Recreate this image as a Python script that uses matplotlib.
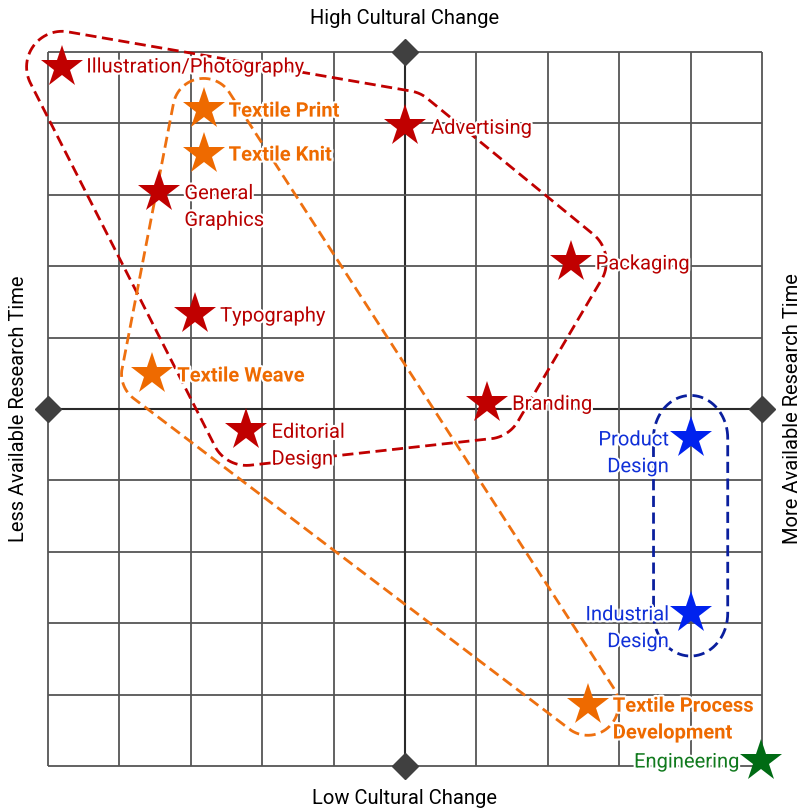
import numpy as np
import matplotlib
matplotlib.use("Agg")
import matplotlib.pyplot as plt
import matplotlib.patheffects as pe

# ---------------- data ----------------
names = ["Illustration/Photography", "Textile Print", "Textile Knit", "General\nGraphics",
         "Advertising", "Packaging", "Typography", "Textile Weave", "Branding",
         "Editorial\nDesign", "Product\nDesign", "Industrial\nDesign",
         "Textile Process\nDevelopment", "Engineering"]
x_change = [-4.80, -2.82, -2.82, -3.44, 0.00, 2.32, -2.94, -3.54, 1.15, -2.22, 4.00, 4.00, 2.56, 4.99]
y_time = [4.79, 4.20, 3.57, 3.04, 3.96, 2.06, 1.33, 0.49, 0.08, -0.29, -0.41, -2.86, -4.14, -4.93]
group = ["graphic", "textile", "textile", "graphic", "graphic", "graphic", "graphic", "textile",
         "graphic", "graphic", "product", "product", "textile", "engineering"]

top_title = "High Cultural Change"
bottom_title = "Low Cultural Change"
left_title = "Less Available Research Time"
right_title = "More Available Research Time"
grid_ticks = [-5, -4, -3, -2, -1, 0, 1, 2, 3, 4, 5]

# ---------------- style ----------------
star_color = {"graphic": "#C00000", "textile": "#EE6A00", "product": "#0022EE", "engineering": "#006B14"}
text_color = {"graphic": "#B80000", "textile": "#EE6A00", "product": "#1030D8", "engineering": "#117A1E"}
text_weight = {"graphic": "normal", "textile": "bold", "product": "normal", "engineering": "normal"}
outline_color = {"graphic": "#C00000", "textile": "#EE7010", "product": "#0A1F9E"}
outline_radius = {"graphic": (0.50, 0.50), "textile": (0.43, 0.43), "product": (0.52, 0.60)}
# label offsets in pixels (dx, dy) and horizontal alignment
label_off = [(24, 0), (25, -2), (25, -1), (25, -15), (26, -2), (25, -2), (25, -2), (25, -2),
             (25, -1), (25, -16), (-22, -15), (-22, -15), (25, -15), (-22, -1)]
label_ha = ["left"] * 10 + ["right", "right", "left", "right"]
FS = 14.5

plt.rcParams["font.family"] = ["Roboto", "DejaVu Sans"]

fig = plt.figure(figsize=(8.02, 8.09), dpi=100)
ax = fig.add_axes([48 / 802, 43 / 809, 714 / 802, 714 / 809])
ax.set_xlim(-5, 5)
ax.set_ylim(-5, 5)
ax.set_aspect("equal")
ax.axis("off")

# grid
for t in grid_ticks:
    c, lw = ("#2a2a2a", 1.5) if t == 0 else ("#555555", 1.3)
    ax.plot([t, t], [-5, 5], color=c, lw=lw, zorder=1, solid_capstyle="butt", clip_on=False)
    ax.plot([-5, 5], [t, t], color=c, lw=lw, zorder=1, solid_capstyle="butt", clip_on=False)

# diamonds at axis ends
ax.plot([0, 0, -5, 5], [5, -5, 0, 0], linestyle="none", marker="D", markersize=13.5,
        color="#404040", zorder=2, clip_on=False)


def buffered_hull(px, py, a, b, n=2880):
    pts = np.column_stack([px, py])
    th = np.linspace(0, 2 * np.pi, n, endpoint=False)
    nx, ny = np.cos(th), np.sin(th)
    proj = pts @ np.vstack([nx, ny])
    idx = proj.argmax(axis=0)
    v = pts[idx]
    d = np.sqrt(a * a * nx * nx + b * b * ny * ny)
    X = v[:, 0] + a * a * nx / d
    Y = v[:, 1] + b * b * ny / d
    return np.append(X, X[0]), np.append(Y, Y[0])


xs = np.array(x_change)
ys = np.array(y_time)
gs = np.array(group)
for g, col in outline_color.items():
    m = gs == g
    hx, hy = buffered_hull(xs[m], ys[m], *outline_radius[g])
    ax.plot(hx, hy, color=col, lw=2.0, dashes=(4, 2), zorder=3, clip_on=False)

# stars
for x, y, g in zip(x_change, y_time, group):
    ax.plot([x], [y], marker="*", markersize=31.5, color=star_color[g], markeredgewidth=0,
            linestyle="none", zorder=4, clip_on=False)

# labels
halo = [pe.withStroke(linewidth=3, foreground="white")]
for name, x, y, g, off, ha in zip(names, x_change, y_time, group, label_off, label_ha):
    ax.annotate(name, xy=(x, y), xytext=off, textcoords="offset pixels", ha=ha, va="center",
                multialignment=ha, fontsize=FS, color=text_color[g], fontweight=text_weight[g],
                linespacing=1.52, path_effects=halo, zorder=5, annotation_clip=False)

# axis titles
fig.text(405 / 802, 1 - 18 / 809, top_title, ha="center", va="center", fontsize=FS, color="black")
fig.text(405 / 802, 1 - 799 / 809, bottom_title, ha="center", va="center", fontsize=FS, color="black")
fig.text(19 / 802, 1 - 409 / 809, left_title, ha="center", va="center", rotation=90, fontsize=FS, color="black")
fig.text(792 / 802, 1 - 409 / 809, right_title, ha="center", va="center", rotation=90, fontsize=FS, color="black")

fig.savefig("out.png", dpi=100, facecolor="white")
